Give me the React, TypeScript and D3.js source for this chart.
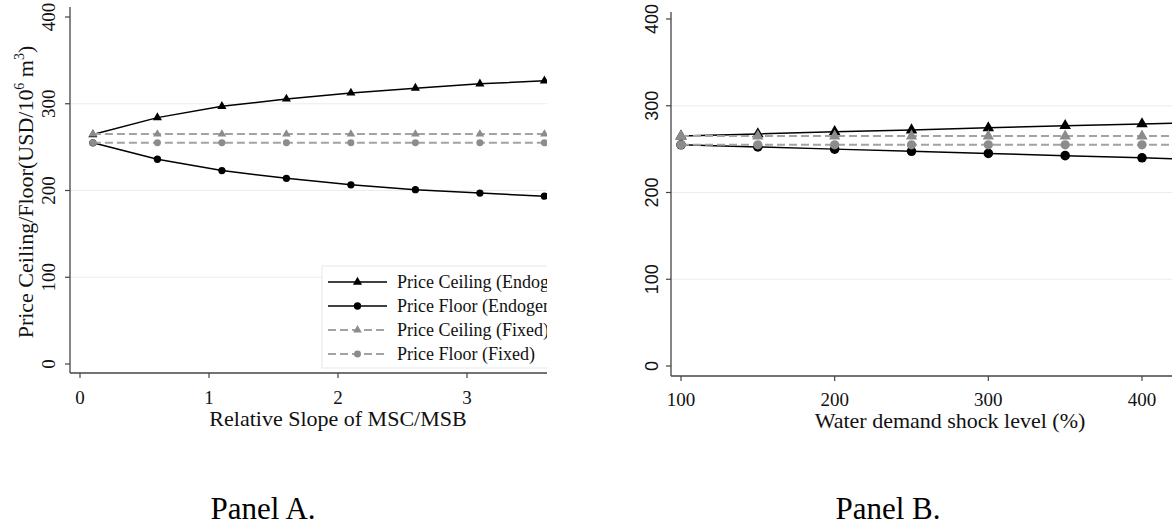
import React from 'react';
import { scaleLinear, line, symbol, symbolTriangle, symbolCircle } from 'd3';

// Panel A: relative slope of MSC/MSB
const slopeLevels = [0.1, 0.6, 1.1, 1.6, 2.1, 2.6, 3.1, 3.6];
const ceilingEndogA = [264.5, 284, 297, 305.5, 312.5, 318, 323, 326.5];
const floorEndogA = [255, 236, 223, 214, 206.5, 201, 197, 193.5];
const ceilingFixedA = [265, 265, 265, 265, 265, 265, 265, 265];
const floorFixedA = [255, 255, 255, 255, 255, 255, 255, 255];

// Panel B: water demand shock level (%)
const shockLevels = [100, 150, 200, 250, 300, 350, 400, 450];
const ceilingEndogB = [265, 267.5, 270, 272, 274.5, 277, 279, 281];
const floorEndogB = [255, 252.5, 250, 247.5, 245, 242.5, 240, 237.5];
const ceilingFixedB = [265, 265, 265, 265, 265, 265, 265, 265];
const floorFixedB = [255, 255, 255, 255, 255, 255, 255, 255];

const yTicks = [0, 100, 200, 300, 400];
const gridTicks = [100, 200, 300];
const xTicksA = [0, 1, 2, 3];
const xTicksB = [100, 200, 300, 400];

const legendLabels = [
  'Price Ceiling (Endogenous)',
  'Price Floor (Endogenous)',
  'Price Ceiling (Fixed)',
  'Price Floor (Fixed)',
];

const serif = '"Liberation Serif", "Times New Roman", serif';
const sans = '"Liberation Sans", Arial, sans-serif';
const axisColor = '#444';
const gridColor = '#e7eeee';
const black = '#000';
const grayLine = '#a3a3a3';
const grayMark = '#8c8c8c';

type Kind = 'endog' | 'fixed';
type Mark = 'tri' | 'dot';
type SeriesDef = { values: number[]; kind: Kind; mark: Mark };
// marker areas per panel: [endog tri, endog dot, fixed tri, fixed dot]
type Sizes = { tri: number; dot: number; gtri: number; gdot: number };

const sizesA: Sizes = { tri: 36, dot: 42, gtri: 32, gdot: 38 };
const sizesB: Sizes = { tri: 58, dot: 72, gtri: 56, gdot: 68 };

const seriesStyle = (s: SeriesDef, sz: Sizes) => {
  const endog = s.kind === 'endog';
  const area = s.mark === 'tri' ? (endog ? sz.tri : sz.gtri) : endog ? sz.dot : sz.gdot;
  return {
    stroke: endog ? black : grayLine,
    strokeWidth: endog ? 1.5 : 2,
    dash: endog ? undefined : '8,4',
    markFill: endog ? black : grayMark,
    markPath: symbol()
      .type(s.mark === 'tri' ? symbolTriangle : symbolCircle)
      .size(area)() as string,
  };
};

function Series({ xs, s, x, y, sz }: { xs: number[]; s: SeriesDef; x: any; y: any; sz: Sizes }) {
  const st = seriesStyle(s, sz);
  const pts = xs.map((v, i) => [v, s.values[i]] as [number, number]);
  const gen = line<[number, number]>()
    .x((d) => x(d[0]))
    .y((d) => y(d[1]));
  return (
    <g>
      <path d={gen(pts) || ''} fill="none" stroke={st.stroke} strokeWidth={st.strokeWidth} strokeDasharray={st.dash} />
      {pts.map((d, i) => (
        <path key={i} d={st.markPath} transform={`translate(${x(d[0])},${y(d[1])})`} fill={st.markFill} />
      ))}
    </g>
  );
}

export default function App() {
  const width = 1172;
  const height = 527;

  // panel A frame
  const xA = scaleLinear().domain([0, 3]).range([80, 467]);
  const yA = scaleLinear().domain([0, 400]).range([364, 17]);
  const axA = { left: 70, top: 7, bottom: 373, right: 547 };

  // panel B frame
  const xB = scaleLinear().domain([100, 400]).range([681, 1142]);
  const yB = scaleLinear().domain([0, 400]).range([366, 19]);
  const axB = { left: 671, top: 12, bottom: 376, right: 1172 };

  const seriesA: SeriesDef[] = [
    { values: ceilingEndogA, kind: 'endog', mark: 'tri' },
    { values: floorEndogA, kind: 'endog', mark: 'dot' },
    { values: ceilingFixedA, kind: 'fixed', mark: 'tri' },
    { values: floorFixedA, kind: 'fixed', mark: 'dot' },
  ];
  const seriesB: SeriesDef[] = [
    { values: ceilingEndogB, kind: 'endog', mark: 'tri' },
    { values: floorEndogB, kind: 'endog', mark: 'dot' },
    { values: ceilingFixedB, kind: 'fixed', mark: 'tri' },
    { values: floorFixedB, kind: 'fixed', mark: 'dot' },
  ];

  const legendY = scaleLinear().domain([0, 3]).range([282, 354]);

  return (
    <svg
      width={width}
      height={height}
      style={{ position: 'absolute', left: 0, top: 0, background: '#fff' }}
    >
      <defs>
        <clipPath id="clipA">
          <rect x={0} y={0} width={axA.right} height={height} />
        </clipPath>
        <clipPath id="clipB">
          <rect x={axB.left} y={0} width={axB.right - axB.left} height={height} />
        </clipPath>
      </defs>

      {/* ---------- Panel A ---------- */}
      <g clipPath="url(#clipA)">
        {gridTicks.map((t) => (
          <line key={t} x1={axA.left} x2={axA.right} y1={yA(t)} y2={yA(t)} stroke={gridColor} strokeWidth={1.2} />
        ))}
        {seriesA.map((s, i) => (
          <Series key={i} xs={slopeLevels} s={s} x={xA} y={yA} sz={sizesA} />
        ))}

        {/* legend */}
        <rect x={322} y={266} width={260} height={102} fill="#fff" stroke="#e3e9e9" strokeWidth={1} />
        {seriesA.map((s, i) => {
          const st = seriesStyle(s, sizesA);
          const ly = legendY(i);
          return (
            <g key={i}>
              <line x1={328} x2={387} y1={ly} y2={ly} stroke={st.stroke} strokeWidth={st.strokeWidth} strokeDasharray={st.dash} />
              <path d={st.markPath} transform={`translate(357.5,${ly})`} fill={st.markFill} />
              <text x={397} y={ly + 6} fontFamily={serif} fontSize={18} fill="#111">
                {legendLabels[i]}
              </text>
            </g>
          );
        })}

        <line x1={axA.left} x2={axA.right} y1={axA.bottom} y2={axA.bottom} stroke={axisColor} strokeWidth={1.3} />
      </g>
      <line x1={axA.left} x2={axA.left} y1={axA.top} y2={axA.bottom} stroke={axisColor} strokeWidth={1.3} />
      {yTicks.map((t) => (
        <g key={t}>
          <line x1={axA.left - 5} x2={axA.left} y1={yA(t)} y2={yA(t)} stroke={axisColor} strokeWidth={1.2} />
          <text
            transform={`translate(55,${yA(t)}) rotate(-90)`}
            textAnchor="middle"
            fontFamily={serif}
            fontSize={19}
            fill="#111"
          >
            {t}
          </text>
        </g>
      ))}
      {xTicksA.map((t) => (
        <g key={t}>
          <line x1={xA(t)} x2={xA(t)} y1={axA.bottom} y2={axA.bottom + 5} stroke={axisColor} strokeWidth={1.2} />
          <text x={xA(t)} y={404} textAnchor="middle" fontFamily={serif} fontSize={19} fill="#111">
            {t}
          </text>
        </g>
      ))}
      <text x={338} y={426} textAnchor="middle" fontFamily={serif} fontSize={22} fill="#111">
        Relative Slope of MSC/MSB
      </text>
      <text transform="translate(33,192) rotate(-90)" textAnchor="middle" fontFamily={serif} fontSize={22} fill="#111">
        Price Ceiling/Floor(USD/10
        <tspan dy={-9} fontSize={14}>6</tspan>
        <tspan dy={9}> m</tspan>
        <tspan dy={-9} fontSize={14}>3</tspan>
        <tspan dy={9}>)</tspan>
      </text>
      <text x={263} y={519} textAnchor="middle" fontFamily={serif} fontSize={31} fill="#000">
        Panel A.
      </text>

      {/* ---------- Panel B ---------- */}
      <g clipPath="url(#clipB)">
        {gridTicks.map((t) => (
          <line key={t} x1={axB.left} x2={axB.right} y1={yB(t)} y2={yB(t)} stroke={gridColor} strokeWidth={1.2} />
        ))}
        {seriesB.map((s, i) => (
          <Series key={i} xs={shockLevels} s={s} x={xB} y={yB} sz={sizesB} />
        ))}
        <line x1={axB.left} x2={axB.right} y1={axB.bottom} y2={axB.bottom} stroke={axisColor} strokeWidth={1.3} />
      </g>
      <line x1={axB.left} x2={axB.left} y1={axB.top} y2={axB.bottom} stroke={axisColor} strokeWidth={1.3} />
      {yTicks.map((t) => (
        <g key={t}>
          <line x1={axB.left - 5} x2={axB.left} y1={yB(t)} y2={yB(t)} stroke={axisColor} strokeWidth={1.2} />
          <text
            transform={`translate(658,${yB(t)}) rotate(-90)`}
            textAnchor="middle"
            fontFamily={sans}
            fontSize={18}
            fill="#111"
          >
            {t}
          </text>
        </g>
      ))}
      {xTicksB.map((t) => (
        <g key={t}>
          <line x1={xB(t)} x2={xB(t)} y1={axB.bottom} y2={axB.bottom + 5} stroke={axisColor} strokeWidth={1.2} />
          <text x={xB(t)} y={406} textAnchor="middle" fontFamily={serif} fontSize={19} fill="#111">
            {t}
          </text>
        </g>
      ))}
      <text x={950} y={428} textAnchor="middle" fontFamily={serif} fontSize={22} fill="#111">
        Water demand shock level (%)
      </text>
      <text x={888} y={519} textAnchor="middle" fontFamily={serif} fontSize={31} fill="#000">
        Panel B.
      </text>
    </svg>
  );
}
